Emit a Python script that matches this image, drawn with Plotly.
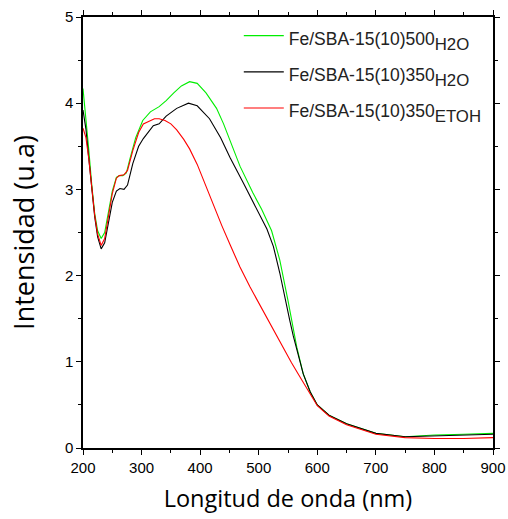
import plotly.graph_objects as go

x_green = [200, 205, 210, 215, 220, 225, 231, 237, 243, 250, 257, 262, 268, 274, 280, 290, 302, 315, 330, 342,
           355, 368, 382, 395, 410, 428, 440, 451, 468, 490, 505, 522, 536, 550, 556, 565, 576, 588, 600, 620,
           650, 700, 750, 800, 850, 900]
y_green = [4.17, 3.85, 3.45, 3.05, 2.72, 2.52, 2.43, 2.50, 2.72, 2.98, 3.14, 3.16, 3.16, 3.19, 3.35, 3.60, 3.80, 3.90, 3.96, 4.03,
           4.12, 4.20, 4.25, 4.23, 4.12, 3.94, 3.76, 3.56, 3.27, 2.96, 2.77, 2.52, 2.18, 1.71, 1.48, 1.17, 0.86, 0.65, 0.50, 0.38,
           0.28, 0.17, 0.13, 0.15, 0.16, 0.17]

x_black = [200, 205, 210, 215, 220, 225, 231, 237, 243, 250, 257, 263, 270, 276, 285, 295, 303, 320, 330, 342,
           360, 370, 380, 395, 416, 435, 451, 474, 491, 514, 525, 536, 553, 559, 576, 588, 600, 620,
           650, 700, 750, 800, 850, 900]
y_black = [3.92, 3.70, 3.35, 3.00, 2.68, 2.45, 2.31, 2.38, 2.60, 2.85, 2.98, 3.01, 3.00, 3.05, 3.30, 3.50, 3.59, 3.74, 3.76, 3.85,
           3.94, 3.97, 4.00, 3.97, 3.82, 3.60, 3.37, 3.07, 2.84, 2.54, 2.34, 2.03, 1.48, 1.30, 0.86, 0.65, 0.50, 0.38,
           0.28, 0.17, 0.13, 0.14, 0.15, 0.16]

x_red = [200, 205, 210, 215, 220, 225, 231, 237, 243, 250, 257, 262, 270, 276, 285, 295, 303, 315, 322, 330,
         340, 350, 360, 372, 382, 395, 405, 420, 437, 451, 468, 485, 502, 516, 536, 556, 570, 585, 600, 620,
         650, 700, 750, 800, 850, 900]
y_red = [3.71, 3.60, 3.35, 3.00, 2.70, 2.48, 2.35, 2.43, 2.68, 2.95, 3.13, 3.16, 3.17, 3.22, 3.45, 3.66, 3.76, 3.80, 3.82, 3.82,
         3.80, 3.76, 3.69, 3.58, 3.47, 3.29, 3.12, 2.85, 2.58, 2.36, 2.10, 1.87, 1.66, 1.48, 1.23, 0.99, 0.83, 0.66, 0.49, 0.37,
         0.27, 0.16, 0.12, 0.11, 0.11, 0.12]

main_labels = ["Fe/SBA-15(10)500", "Fe/SBA-15(10)350", "Fe/SBA-15(10)350"]
sub_labels = ["H2O", "H2O", "ETOH"]
colors = ["#00ee00", "#000000", "#ff0000"]

x_ticks = [200, 300, 400, 500, 600, 700, 800, 900]
y_ticks = [0, 1, 2, 3, 4, 5]

fig = go.Figure()
for i, (xs, ys) in enumerate([(x_green, y_green), (x_black, y_black), (x_red, y_red)]):
    label = "<span style='font-size:17.5px'>%s</span><sub>%s</sub>" % (main_labels[i], sub_labels[i])
    fig.add_trace(go.Scatter(x=xs, y=ys, mode="lines", name=label, legendgroup=str(i),
                             line=dict(color=colors[i], width=1.1)))

axis_common = dict(showline=True, linecolor="black", linewidth=1.5, mirror="ticks",
                   ticks="outside", ticklen=5, tickwidth=1.2, tickcolor="black",
                   showgrid=False, zeroline=False, automargin=False,
                   tickfont=dict(family="Liberation Sans, Arial", size=15, color="black"))

fig.update_xaxes(range=[200, 900], tickvals=x_ticks,
                 minor=dict(dtick=50, ticks="outside", ticklen=3, tickcolor="black", tickwidth=1),
                 title=dict(text="Longitud de onda (nm)", standoff=16,
                            font=dict(family="Open Sans, Liberation Sans", size=23.5, color="black")),
                 **axis_common)
fig.update_yaxes(range=[0, 5], tickvals=y_ticks,
                 minor=dict(dtick=0.5, ticks="outside", ticklen=3, tickcolor="black", tickwidth=1),
                 title=dict(text="Intensidad (u.a)", standoff=22,
                            font=dict(family="Open Sans, Liberation Sans", size=27, color="black")),
                 **axis_common)

fig.update_layout(
    width=508, height=519,
    margin=dict(l=83, r=15, t=17, b=71, autoexpand=False),
    plot_bgcolor="white", paper_bgcolor="white",
    legend=dict(x=0.38, y=1.008, xanchor="left", yanchor="top", bgcolor="rgba(0,0,0,0)",
                font=dict(family="Liberation Sans, Arial", size=24, color="#222222"),
                tracegroupgap=2, itemwidth=40),
)

fig.write_html("out.html", config={"displayModeBar": False},
               post_script="document.body.style.margin='0px';")
